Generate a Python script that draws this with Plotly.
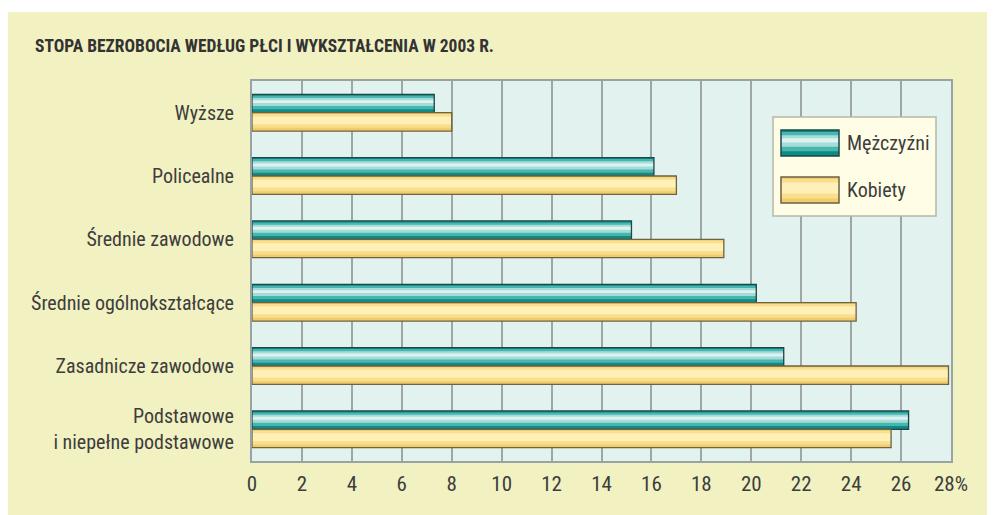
import plotly.graph_objects as go

categories = ["Wyższe", "Policealne", "Średnie zawodowe", "Średnie ogólnokształcące",
              "Zasadnicze zawodowe", "Podstawowe<br>i niepełne podstawowe"]
men = [7.3, 16.1, 15.2, 20.2, 21.3, 26.3]
women = [8.0, 17.0, 18.9, 24.2, 27.9, 25.6]
x_ticks = [0, 2, 4, 6, 8, 10, 12, 14, 16, 18, 20, 22, 24, 26, 28]
x_ticktext = ["0", "2", "4", "6", "8", "10", "12", "14", "16", "18", "20", "22", "24", "26", "28%"]
series_names = ["Mężczyźni", "Kobiety"]

FONT = "Roboto Condensed, Roboto, sans-serif"
TXT = "#3d3d3d"
BAR_W = 0.29

fig = go.Figure()

def gradient_bars(values, start, layers, outline):
    for rw, rc, col in layers:
        w = BAR_W * rw
        center = start + BAR_W * rc
        fig.add_trace(go.Bar(
            y=categories, x=values, orientation="h",
            width=[w] * len(values), offset=[center - w / 2] * len(values),
            marker=dict(color=col, line=dict(width=0)),
            showlegend=False, hoverinfo="skip"))
    fig.add_trace(go.Bar(
        y=categories, x=values, orientation="h",
        width=[BAR_W] * len(values), offset=[start] * len(values),
        marker=dict(color="rgba(0,0,0,0)", line=dict(width=1.3, color=outline)),
        showlegend=False, hoverinfo="skip"))

teal_layers = [(1.0, 0.5, "#0f8a84"), (0.74, 0.45, "#47b6b0"),
               (0.44, 0.42, "#a6dcd8"), (0.16, 0.40, "#dcf3f1")]
yellow_layers = [(1.0, 0.5, "#f0cc6c"), (0.75, 0.45, "#f9de8e"),
                 (0.42, 0.42, "#fff0b8")]

gradient_bars(men, -BAR_W, teal_layers, "#1f4544")
gradient_bars(women, 0.0, yellow_layers, "#6e6244")

# page has an 8px body margin: figure spans page x 8..995, y 8..515
fig.update_layout(
    width=987, height=507,
    barmode="overlay",
    paper_bgcolor="#f2f1c1",
    plot_bgcolor="#e2f2ef",
    margin=dict(l=244, r=44, t=73, b=54, autoexpand=False),
    font=dict(family=FONT, size=20, color=TXT),
    title=dict(text="<b>STOPA BEZROBOCIA WEDŁUG PŁCI I WYKSZTAŁCENIA W 2003 R.</b>",
               x=27 / 987, y=1 - 38 / 507, xanchor="left", yanchor="middle",
               font=dict(family=FONT, size=17.5, color="#333333")),
    xaxis=dict(range=[0, 28], tickvals=x_ticks, ticktext=x_ticktext,
               showgrid=True, gridcolor="#9ea6a6", gridwidth=2,
               showline=True, linecolor="#9aa3a3", linewidth=2, mirror=True,
               zeroline=False, ticks="", ticklabelstandoff=3, automargin=False,
               tickfont=dict(size=21, color=TXT)),
    yaxis=dict(range=[5.5, -0.5], type="category",
               showgrid=False, showline=True, linecolor="#9aa3a3", linewidth=2,
               mirror=True, ticks="", ticklabelstandoff=12, automargin=False,
               tickfont=dict(size=20, color=TXT)),
    showlegend=False,
)

def px_to_paper_x(px):
    return (px - 252) / 699

def px_to_paper_y(py):
    return (461 - py) / 380

# white strip above the beige panel
fig.add_shape(type="rect", xref="paper", yref="paper",
              x0=px_to_paper_x(0), x1=px_to_paper_x(1000),
              y0=px_to_paper_y(12), y1=px_to_paper_y(0),
              fillcolor="white", line=dict(width=0), layer="below")

# legend box
fig.add_shape(type="rect", xref="paper", yref="paper",
              x0=px_to_paper_x(773), x1=px_to_paper_x(936),
              y0=px_to_paper_y(216), y1=px_to_paper_y(117),
              fillcolor="#fffde6", line=dict(width=1.5, color="#b5b8a8"))
legend_rows = [(130, 156, teal_layers, "#1f4544"), (177, 203, yellow_layers, "#6e6244")]
for (top, bot, layers, outline), name in zip(legend_rows, series_names):
    h = bot - top
    for rw, rc, col in layers:
        c = top + h * rc
        fig.add_shape(type="rect", xref="paper", yref="paper",
                      x0=px_to_paper_x(781), x1=px_to_paper_x(839),
                      y0=px_to_paper_y(c + h * rw / 2), y1=px_to_paper_y(c - h * rw / 2),
                      fillcolor=col, line=dict(width=0))
    fig.add_shape(type="rect", xref="paper", yref="paper",
                  x0=px_to_paper_x(781), x1=px_to_paper_x(839),
                  y0=px_to_paper_y(bot), y1=px_to_paper_y(top),
                  fillcolor="rgba(0,0,0,0)", line=dict(width=1.5, color=outline))
    fig.add_annotation(text=name, xref="paper", yref="paper",
                       x=px_to_paper_x(845), y=px_to_paper_y((top + bot) / 2),
                       xanchor="left", yanchor="middle", showarrow=False,
                       font=dict(family=FONT, size=20, color=TXT))

fig.write_html("out.html")
